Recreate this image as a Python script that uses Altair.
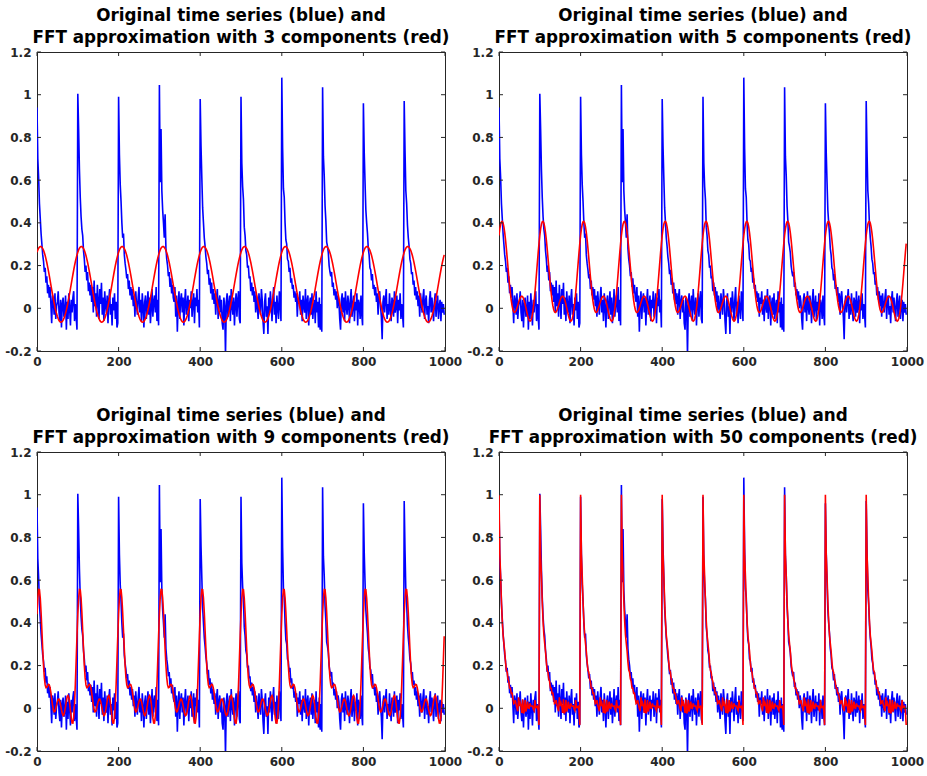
import altair as alt
import numpy as np
import pandas as pd

# ---- data (one sample every 2 time units) ----
sample_step = 2

cycle_0 = [0.94, 0.70, 0.61, 0.49, 0.42, 0.35, 0.30, 0.25, 0.22, 0.17, 0.19, 0.12, 0.15, 0.07, 0.11, 0.05, 0.10, 0.02, -0.07, 0.06,
           0.04, -0.03, 0.07, -0.05, 0.01, 0.03, 0.08, -0.02, -0.06, 0.04, -0.09, 0.02, 0.05, -0.04, -0.01, 0.06, -0.10, 0.03, -0.05, 0.07,
           0.00, -0.08, 0.04, -0.02, 0.05, 0.08, -0.06, 0.02, -0.04, -0.10]
cycle_1 = [1.005, 0.84, 0.65, 0.52, 0.43, 0.37, 0.34, 0.27, 0.23, 0.17, 0.20, 0.13, 0.17, 0.08, 0.12, 0.06, 0.11, 0.03, 0.10, -0.02,
           0.13, 0.01, 0.07, -0.04, 0.11, 0.03, -0.05, 0.09, 0.02, 0.12, -0.03, 0.05, -0.06, 0.08, 0.01, -0.02, 0.06, -0.07, 0.04, 0.09,
           -0.03, 0.02, -0.08, 0.05, -0.01, 0.07, -0.05, 0.03, -0.09, -0.07]
cycle_2 = [0.99, 0.72, 0.58, 0.50, 0.40, 0.33, 0.35, 0.25, 0.21, 0.18, 0.14, 0.16, 0.09, 0.13, 0.06, 0.10, 0.04, 0.09, 0.01, 0.06,
           -0.04, 0.08, 0.02, -0.03, 0.05, 0.10, -0.02, 0.04, -0.06, 0.07, 0.01, -0.09, 0.03, 0.06, -0.05, 0.02, 0.08, -0.03, 0.05, -0.07,
           0.00, 0.09, -0.04, 0.03, 0.06, -0.02, 0.10, -0.06, 0.04, -0.08]
cycle_3 = [1.045, 0.59, 0.84, 0.55, 0.46, 0.40, 0.33, 0.44, 0.28, 0.23, 0.20, 0.15, 0.17, 0.10, 0.14, 0.07, 0.11, 0.05, 0.03, 0.10,
           -0.04, 0.06, -0.11, 0.02, 0.08, -0.05, 0.04, 0.07, -0.02, 0.05, -0.08, 0.03, 0.09, -0.03, 0.01, 0.06, -0.06, 0.04, 0.00, 0.08,
           -0.04, 0.02, 0.07, -0.07, 0.05, 0.01, 0.09, -0.02, 0.04, -0.09]
cycle_4 = [0.98, 0.76, 0.61, 0.47, 0.40, 0.33, 0.29, 0.24, 0.21, 0.16, 0.18, 0.11, 0.14, 0.07, 0.12, 0.04, 0.09, 0.02, 0.07, -0.03,
           0.05, 0.09, -0.05, 0.03, 0.06, -0.02, 0.04, -0.07, -0.10, 0.05, 0.01, -0.22, 0.03, 0.07, -0.04, 0.02, 0.06, -0.06, 0.09, 0.01,
           -0.03, 0.05, -0.08, 0.02, 0.07, -0.04, 0.04, 0.08, -0.05, -0.07]
cycle_5 = [0.99, 0.68, 0.57, 0.51, 0.38, 0.34, 0.27, 0.25, 0.19, 0.20, 0.14, 0.15, 0.08, 0.12, 0.06, 0.10, 0.03, 0.08, -0.02, 0.06,
           0.01, -0.05, 0.07, 0.02, -0.03, 0.09, 0.04, -0.06, -0.12, 0.03, 0.07, -0.04, 0.01, -0.12, 0.05, -0.02, 0.08, 0.02, -0.06, 0.04,
           0.10, -0.03, 0.03, -0.07, 0.06, 0.00, -0.05, 0.08, 0.02, -0.06]
cycle_6 = [1.08, 0.75, 0.56, 0.52, 0.40, 0.32, 0.30, 0.23, 0.22, 0.17, 0.19, 0.12, 0.14, 0.09, 0.11, 0.05, 0.08, 0.03, 0.07, -0.04,
           0.05, 0.02, 0.08, -0.03, 0.04, -0.06, 0.06, 0.01, -0.02, 0.09, -0.05, 0.03, 0.06, -0.08, 0.02, 0.05, -0.03, 0.07, -0.05, 0.01,
           0.04, -0.07, 0.08, -0.02, 0.03, -0.09, 0.05, -0.10, 0.02, -0.11]
cycle_7 = [1.035, 0.71, 0.62, 0.48, 0.41, 0.31, 0.29, 0.26, 0.20, 0.17, 0.15, 0.17, 0.10, 0.12, 0.06, 0.09, 0.04, 0.08, 0.00, 0.06,
           0.03, -0.05, -0.10, 0.04, 0.07, -0.02, 0.05, -0.06, 0.08, 0.01, -0.03, 0.06, 0.02, -0.07, 0.04, 0.09, -0.04, 0.01, 0.06, -0.06,
           0.03, -0.01, 0.07, -0.08, 0.04, 0.02, -0.05, 0.06, -0.03, -0.08]
cycle_8 = [0.96, 0.73, 0.59, 0.46, 0.40, 0.35, 0.28, 0.25, 0.19, 0.18, 0.13, 0.16, 0.09, 0.11, 0.06, 0.10, 0.03, 0.07, -0.03, 0.05,
           0.08, 0.01, -0.04, -0.145, 0.03, 0.06, -0.02, 0.04, 0.09, -0.05, 0.02, -0.03, 0.07, 0.00, -0.06, 0.05, 0.03, -0.04, 0.08, -0.02,
           0.01, 0.06, -0.07, 0.04, -0.01, 0.07, -0.05, 0.02, -0.03, -0.09]
cycle_9 = [0.97, 0.74, 0.55, 0.49, 0.39, 0.33, 0.29, 0.23, 0.21, 0.16, 0.17, 0.11, 0.13, 0.06, 0.10, 0.04, 0.08, 0.01, 0.06, -0.04,
           0.07, 0.02, -0.02, 0.05, 0.09, -0.05, 0.03, 0.06, -0.03, 0.01, -0.07, 0.04, 0.08, -0.02, 0.05, 0.00, -0.06, 0.03, 0.07, -0.04,
           0.02, 0.06, -0.05, 0.01, 0.04, -0.06, 0.03, -0.02, 0.02, -0.03]

cycles = [cycle_0, cycle_1, cycle_2, cycle_3, cycle_4, cycle_5, cycle_6, cycle_7, cycle_8, cycle_9]
component_counts = [3, 5, 9, 50]
x_ticks = [0, 200, 400, 600, 800, 1000]
y_ticks = [-0.2, 0, 0.2, 0.4, 0.6, 0.8, 1, 1.2]
title_line_1 = "Original time series (blue) and"
title_line_2 = "FFT approximation with {} components (red)"

# ---- FFT approximation (keep the k largest coefficients) ----
blue = np.concatenate([np.asarray(c, dtype=float) for c in cycles])
t = np.arange(blue.size) * sample_step
spectrum = np.fft.fft(blue)
rank = np.argsort(-np.abs(spectrum), kind="stable")


def fft_approx(k):
    kept = np.zeros_like(spectrum)
    kept[rank[:k]] = spectrum[rank[:k]]
    return np.real(np.fft.ifft(kept))


W, H = 408, 299
AXIS_COLOR = "#262626"
FONT = "DejaVu Sans"
x_scale = alt.Scale(domain=[0, 1000], nice=False, zero=False)
y_scale = alt.Scale(domain=[-0.2, 1.2], nice=False, zero=False)
x_axis = alt.Axis(values=x_ticks, ticks=False, domain=False, grid=False, title=None, format="d",
                  labelFont=FONT, labelFontSize=12, labelFontWeight="bold", labelColor=AXIS_COLOR,
                  labelPadding=5, labelFlush=False, labelOverlap=False)
y_axis = alt.Axis(values=y_ticks, ticks=False, domain=False, grid=False, title=None,
                  labelFont=FONT, labelFontSize=12, labelFontWeight="bold", labelColor=AXIS_COLOR,
                  labelPadding=6, labelOverlap=False,
                  labelExpr="replace(format(datum.value, '~g'), '\u2212', '-')")

xt_df = pd.DataFrame({"v": x_ticks})
yt_df = pd.DataFrame({"v": y_ticks})
TICK = 4


def panel(k):
    df = pd.DataFrame({"t": t, "blue": blue, "red": fft_approx(k)})
    base = alt.Chart(df)
    blue_line = base.mark_line(color="#0000ff", strokeWidth=1.6, clip=True).encode(
        x=alt.X("t:Q", scale=x_scale, axis=x_axis),
        y=alt.Y("blue:Q", scale=y_scale, axis=y_axis),
    )
    red_line = base.mark_line(color="#ff0000", strokeWidth=1.6, clip=True).encode(
        x=alt.X("t:Q", scale=x_scale, axis=x_axis),
        y=alt.Y("red:Q", scale=y_scale, axis=y_axis),
    )
    xt = alt.Chart(xt_df)
    yt = alt.Chart(yt_df)
    bottom_ticks = xt.mark_rule(color=AXIS_COLOR, strokeWidth=1).encode(
        x=alt.X("v:Q", scale=x_scale, axis=x_axis), y=alt.value(H), y2=alt.value(H - TICK))
    top_ticks = xt.mark_rule(color=AXIS_COLOR, strokeWidth=1).encode(
        x=alt.X("v:Q", scale=x_scale, axis=x_axis), y=alt.value(0), y2=alt.value(TICK))
    left_ticks = yt.mark_rule(color=AXIS_COLOR, strokeWidth=1).encode(
        y=alt.Y("v:Q", scale=y_scale, axis=y_axis), x=alt.value(0), x2=alt.value(TICK))
    right_ticks = yt.mark_rule(color=AXIS_COLOR, strokeWidth=1).encode(
        y=alt.Y("v:Q", scale=y_scale, axis=y_axis), x=alt.value(W - TICK), x2=alt.value(W))
    return alt.layer(blue_line, red_line, bottom_ticks, top_ticks, left_ticks, right_ticks).properties(
        width=W, height=H,
        title=alt.TitleParams(text=[title_line_1, title_line_2.format(k)], font=FONT, fontSize=16.8,
                              fontWeight="bold", color="black", anchor="middle", offset=-1, lineHeight=22.7),
    )


chart = alt.concat(*[panel(k) for k in component_counts], columns=2,
                   spacing={"row": 101, "column": 54}, bounds="flush").properties(
    padding={"left": 4, "top": 7, "right": 0, "bottom": 0},
    background="white",
).configure_view(stroke=AXIS_COLOR, strokeWidth=1)

chart.save("out.html", embed_options={"renderer": "svg", "actions": False})
